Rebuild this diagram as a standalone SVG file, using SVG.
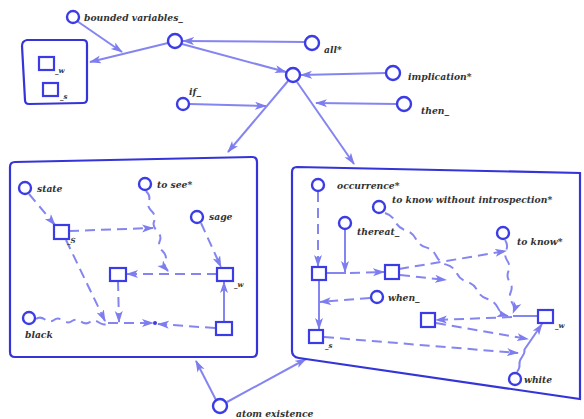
<svg xmlns="http://www.w3.org/2000/svg" width="584" height="419" viewBox="0 0 584 419">
<style>
.n{fill:#fff;stroke:#3c3ce6;stroke-width:2.4}
.sq{fill:#fff;stroke:#3c3ce6;stroke-width:2.2}
.box{fill:none;stroke:#3434d8;stroke-width:2.2}
.c{fill:none;stroke:#8585f2;stroke-width:2}
.d{stroke-dasharray:10 6}
.t{font-family:"DejaVu Serif","Liberation Serif",serif;font-style:italic;font-weight:bold;font-size:9.2px;fill:#333}
.s{font-size:7px}
</style>
<defs>
<marker id="a" markerUnits="userSpaceOnUse" markerWidth="13" markerHeight="9" refX="11" refY="4" orient="auto">
<path d="M0,0 L12,4 L0,8 L3,4 Z" fill="#7d7df0"/>
</marker>
</defs>
<rect width="584" height="419" fill="#fff"/>
<g id="connectors">
<line class="c" x1="77" y1="21" x2="122" y2="52" marker-end="url(#a)"/>
<line class="c" x1="168" y1="43" x2="90" y2="62" marker-end="url(#a)"/>
<line class="c" x1="305" y1="42" x2="183" y2="41" marker-end="url(#a)"/>
<line class="c" x1="182" y1="44" x2="286" y2="72" marker-end="url(#a)"/>
<line class="c" x1="386" y1="73" x2="301" y2="75" marker-end="url(#a)"/>
<line class="c" x1="397" y1="104" x2="316" y2="103" marker-end="url(#a)"/>
<line class="c" x1="190" y1="104" x2="266" y2="106" marker-end="url(#a)"/>
<line class="c" x1="288" y1="81" x2="228" y2="152" marker-end="url(#a)"/>
<line class="c" x1="297" y1="82" x2="354" y2="164" marker-end="url(#a)"/>
<line class="c d" x1="29" y1="194" x2="55" y2="225" marker-end="url(#a)"/>
<line class="c d" x1="69" y1="231" x2="153" y2="228" marker-end="url(#a)"/>
<path class="c d" d="M146,191 q5,5 2.75,10 t2.75,10 t2.75,10 t2.75,10 t2.75,10 t2.75,10 t2.75,10 t2.75,10" marker-end="url(#a)"/>
<line class="c d" x1="201" y1="223" x2="221" y2="267" marker-end="url(#a)"/>
<line class="c d" x1="217" y1="274" x2="127" y2="274" marker-end="url(#a)"/>
<line class="c d" x1="118" y1="281" x2="119" y2="322" marker-end="url(#a)"/>
<line class="c d" x1="66" y1="240" x2="105" y2="321" marker-end="url(#a)"/>
<path class="c d" d="M36,319 q4,-3 9,0.5 t9,0.5 t9,0.5 t9,0.5 t9,0.5 t9,0.5 t9,0.5 t9,0.5"/>
<line class="c d" x1="108" y1="323" x2="153" y2="323" marker-end="url(#a)"/>
<line class="c d" x1="215" y1="328" x2="158" y2="324" marker-end="url(#a)"/>
<line class="c" x1="224" y1="321" x2="224" y2="282" marker-end="url(#a)"/>
<line class="c d" x1="318" y1="192" x2="318" y2="266" marker-end="url(#a)"/>
<line class="c" x1="345" y1="230" x2="345" y2="272" marker-end="url(#a)"/>
<line class="c" x1="326" y1="273" x2="346" y2="273"/>
<line class="c d" x1="350" y1="273" x2="384" y2="272" marker-end="url(#a)"/>
<line class="c d" x1="399" y1="269" x2="506" y2="251" marker-end="url(#a)"/>
<line class="c d" x1="400" y1="275" x2="446" y2="280" marker-end="url(#a)"/>
<path class="c d" d="M385,213 q7,2 10.25,8.6 t10.25,8.6 t10.25,8.6 t10.25,8.6 t10.25,8.6 t10.25,8.6 t10.25,8.6 t10.25,8.6 t10.25,8.6 t10.25,8.6 t10.25,8.6 t10.25,8.6" marker-end="url(#a)"/>
<path class="c d" d="M505,240 q3.5,5 1.15,10.4 t1.15,10.4 t1.15,10.4 t1.15,10.4 t1.15,10.4 t1.15,10.4 t1.15,10.4" marker-end="url(#a)"/>
<line class="c" x1="513" y1="316" x2="537" y2="316"/>
<line class="c d" x1="370" y1="298" x2="320" y2="302" marker-end="url(#a)"/>
<line class="c" x1="319" y1="281" x2="319" y2="329" marker-end="url(#a)"/>
<line class="c d" x1="512" y1="317" x2="436" y2="320" marker-end="url(#a)"/>
<line class="c d" x1="436" y1="323" x2="528" y2="339" marker-end="url(#a)"/>
<line class="c d" x1="324" y1="337" x2="518" y2="353" marker-end="url(#a)"/>
<path class="c" d="M517,372 q3,-4 2.5,-7.5 t2.5,-7.5 t2.5,-7.5 L542,324" marker-end="url(#a)"/>
<line class="c" x1="216" y1="400" x2="196" y2="361" marker-end="url(#a)"/>
<line class="c" x1="227" y1="402" x2="306" y2="359" marker-end="url(#a)"/>
</g>
<g id="bvbox">
<path class="box" d="M27,40 L83,40 Q87,40 87,44 L87,99 Q87,103 83,103 L29,104 Q25,104 25,100 L22,46 Q22,41 27,40 Z"/>
<rect class="sq" x="39" y="57" width="15" height="13"/>
<text class="t s" x="55" y="73">_w</text>
<rect class="sq" x="43" y="83" width="15" height="13"/>
<text class="t s" x="60" y="99">_s</text>
</g>
<g id="bounded"><circle class="n" cx="73" cy="17" r="6"/><text class="t" x="84" y="21">bounded variables_</text></g>
<g id="n1"><circle class="n" cx="175" cy="41" r="7"/></g>
<g id="hub"><circle class="n" cx="293" cy="75" r="7"/></g>
<g id="all"><circle class="n" cx="312" cy="43" r="7"/><text class="t" x="324" y="53">all*</text></g>
<g id="implication"><circle class="n" cx="393" cy="73" r="7"/><text class="t" x="408" y="80">implication*</text></g>
<g id="then"><circle class="n" cx="404" cy="104" r="7"/><text class="t" x="421" y="114">then_</text></g>
<g id="if"><circle class="n" cx="183" cy="104" r="6"/><text class="t" x="189" y="95">if_</text></g>
<g id="leftbox">
<path class="box" d="M15,162 L252,157 Q257,157 257,162 L257,352 Q257,357 252,357 L15,357 Q10,357 10,352 L10,167 Q10,162 15,162 Z"/>
</g>
<g id="state"><circle class="n" cx="25" cy="188" r="6"/><text class="t" x="37" y="192">state</text></g>
<g id="tosee"><circle class="n" cx="145" cy="184" r="6"/><text class="t" x="157" y="188">to see*</text></g>
<g id="sage"><circle class="n" cx="197" cy="217" r="6"/><text class="t" x="209" y="220">sage</text></g>
<g id="S"><rect class="sq" x="54" y="225" width="15" height="14"/><text class="t s" x="67" y="243">_S</text></g>
<g id="mid"><rect class="sq" x="110" y="268" width="16" height="13"/></g>
<g id="wL"><rect class="sq" x="217" y="268" width="16" height="13"/><text class="t s" x="234" y="287">_w</text></g>
<g id="br"><rect class="sq" x="216" y="322" width="16" height="13"/></g>
<g id="dot"><circle cx="155" cy="323" r="2" fill="#3c3ce6"/></g>
<g id="black"><circle class="n" cx="29" cy="318" r="6"/><text class="t" x="25" y="338">black</text></g>
<g id="rightbox">
<path class="box" d="M297,167 L580,173 L580,399 L299,358 Q292,357 292,351 L292,172 Q292,167 297,167 Z"/>
</g>
<g id="occurrence"><circle class="n" cx="318" cy="185" r="6"/><text class="t" x="337" y="189">occurrence*</text></g>
<g id="introspection"><circle class="n" cx="379" cy="207" r="6"/><text class="t" x="392" y="203">to know without introspection*</text></g>
<g id="thereat"><circle class="n" cx="345" cy="223" r="6"/><text class="t" x="357" y="235">thereat_</text></g>
<g id="toknow"><circle class="n" cx="503" cy="233" r="6"/><text class="t" x="517" y="245">to know*</text></g>
<g id="A"><rect class="sq" x="312" y="267" width="14" height="13"/></g>
<g id="B"><rect class="sq" x="385" y="265" width="14" height="14"/></g>
<g id="when"><circle class="n" cx="377" cy="297" r="6"/><text class="t" x="388" y="301">when_</text></g>
<g id="C"><rect class="sq" x="309" y="330" width="14" height="13"/><text class="t s" x="325" y="348">_s</text></g>
<g id="D"><rect class="sq" x="421" y="313" width="14" height="14"/></g>
<g id="wR"><rect class="sq" x="538" y="310" width="15" height="13"/><text class="t s" x="555" y="328">_w</text></g>
<g id="white"><circle class="n" cx="515" cy="379" r="6"/><text class="t" x="524" y="383">white</text></g>
<g id="atom"><circle class="n" cx="220" cy="406" r="7"/><text class="t" x="236" y="417">atom existence</text></g>
</svg>
